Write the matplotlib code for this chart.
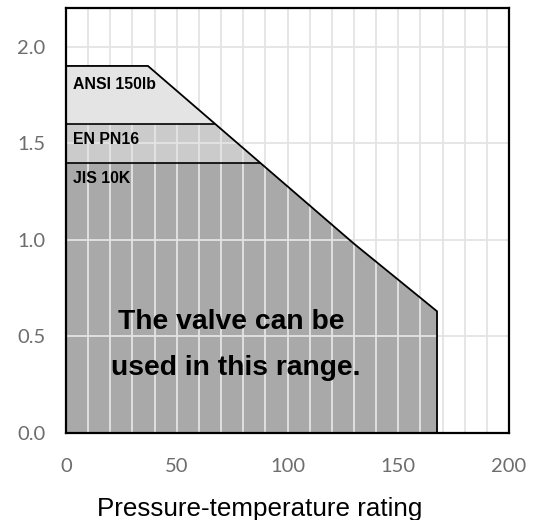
import matplotlib
matplotlib.use("Agg")
import matplotlib.pyplot as plt
from matplotlib.patches import Polygon
from matplotlib.ticker import MultipleLocator

# ---- data ----
limit_x = [0, 0, 37, 130, 167.5, 167.5]          # rating boundary (temperature-ish axis)
limit_y = [0, 1.9, 1.9, 0.98, 0.63, 0]           # pressure limit
standards = ["ANSI 150lb", "EN PN16", "JIS 10K"]
standard_p = [1.9, 1.6, 1.4]
fill_colors = ["#e4e4e4", "#cbcbcb", "#a9a9a9"]
x_ticks = [0, 50, 100, 150, 200]
y_ticks = [0.0, 0.5, 1.0, 1.5, 2.0]
x_label = "Pressure-temperature rating"
note_lines = ["The valve can be", "used in this range."]

fig = plt.figure(figsize=(5.34, 5.20), dpi=100)
ax = fig.add_axes([66/534, 1-433/520, (509-66)/534, (433-8)/520])
ax.set_xlim(0, 200)
ax.set_ylim(0, 2.2)

# base polygon (ANSI region color)
outline = Polygon(list(zip(limit_x, limit_y)), closed=True,
                  facecolor=fill_colors[0], edgecolor="none", zorder=1)
ax.add_patch(outline)
clip = Polygon(list(zip(limit_x, limit_y)), closed=True, transform=ax.transData)

for p, c in zip(standard_p[1:], fill_colors[1:]):
    fb = ax.fill_between([0, 200], 0, p, color=c, lw=0, zorder=1.1)
    fb.set_clip_path(clip)
    hl = ax.plot([0, 200], [p, p], color="black", lw=1.2, zorder=3)[0]
    hl.set_clip_path(clip)

# boundary line
ax.plot(limit_x[1:], limit_y[1:], color="black", lw=1.3, zorder=3,
        solid_joinstyle="miter")

# grid
ax.xaxis.set_major_locator(MultipleLocator(50))
ax.xaxis.set_minor_locator(MultipleLocator(10))
ax.set_yticks(y_ticks)
ax.set_xticks(x_ticks)
ax.set_axisbelow(False)
ax.grid(True, which="both", axis="x", color="#e4e4e4", lw=1.3)
ax.grid(True, which="major", axis="y", color="#e4e4e4", lw=1.3)

ax.tick_params(which="both", length=0)
ax.tick_params(axis="x", pad=18, labelsize=14.5, labelcolor="#6d6d6d")
ax.tick_params(axis="y", pad=15, labelsize=14.5, labelcolor="#6d6d6d")
ax.set_xticklabels([f"{v}" for v in x_ticks], family="Lato")
ax.set_yticklabels([f"{v:.1f}" for v in y_ticks], family="Lato")

for s in ax.spines.values():
    s.set_linewidth(1.6)
    s.set_color("black")
    s.set_zorder(4)

# labels for standards
label_y = [1.781, 1.496, 1.295]
for name, ly in zip(standards, label_y):
    ax.text(3.0, ly, name, fontsize=11.4, fontweight="bold",
            family="Liberation Sans", va="baseline", ha="left", zorder=5)

ax.text(74.5, 0.539, note_lines[0], fontsize=20.3, fontweight="bold",
        family="Liberation Sans", ha="center", va="baseline", zorder=5)
ax.text(76.5, 0.30, note_lines[1], fontsize=20.3, fontweight="bold",
        family="Liberation Sans", ha="center", va="baseline", zorder=5)

fig.text(260/534, 1-516/520, x_label, fontsize=18.7, family="Liberation Sans",
         ha="center", va="baseline")

fig.savefig("out.png", dpi=100)
